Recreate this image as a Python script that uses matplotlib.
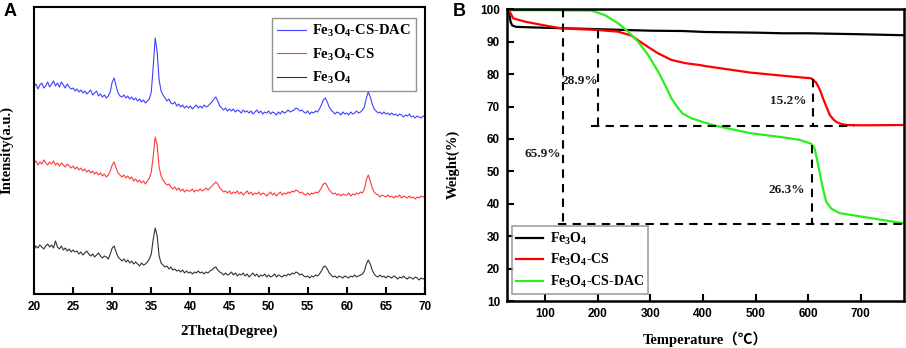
import numpy as np
import matplotlib
matplotlib.use("Agg")
import matplotlib.pyplot as plt

plt.rcParams['mathtext.fontset'] = 'custom'
plt.rcParams['mathtext.rm'] = 'Liberation Serif:bold'
plt.rcParams['mathtext.it'] = 'Liberation Serif:italic:bold'
plt.rcParams['mathtext.bf'] = 'Liberation Serif:bold'

# ---------------- Panel A: XRD ----------------
two_theta = np.arange(0, 201) * 0.25 + 20.0   # 20 .. 70 deg, read grid

xrd_dac = [
    207, 210, 205, 209, 211, 206, 208, 212, 207, 210, 213, 208, 211, 207, 212, 209, 206, 210, 207, 205,
    206, 203, 205, 202, 204, 201, 203, 200, 202, 204, 199, 201, 203, 198, 200, 197, 199, 196, 198, 202,
    212, 216, 208, 201, 198, 197, 199, 196, 198, 195, 197, 194, 196, 193, 195, 192, 194, 191, 193, 195,
    202, 228, 256, 242, 214, 203, 199, 196, 193, 195, 191, 190, 192, 188, 190, 187, 189, 186, 188, 186,
    188, 185, 187, 189, 186, 188, 186, 189, 187, 188, 190, 192, 195, 197, 193, 188, 186, 184, 186, 183,
    185, 183, 185, 182, 184, 183, 181, 184, 182, 183, 181, 183, 180, 182, 184, 181, 183, 180, 182, 181,
    183, 180, 182, 181, 179, 182, 180, 183, 181, 182, 184, 182, 183, 184, 186, 185, 183, 184, 182, 181,
    183, 180, 182, 181, 183, 182, 185, 189, 194, 196, 192, 187, 184, 182, 180, 182, 181, 179, 182, 180,
    181, 179, 182, 180, 181, 183, 181, 182, 184, 187, 196, 202, 197, 190, 185, 183, 181, 182, 180, 182,
    180, 181, 179, 181, 179, 180, 178, 180, 179, 177, 179, 178, 180, 177, 178, 176, 178, 177, 176, 178,
    177,
]
xrd_cs = [
    131, 133, 129, 132, 130, 134, 131, 129, 132, 130, 133, 129, 131, 128, 131, 129, 127, 130, 128, 126,
    128, 125, 127, 124, 126, 123, 125, 122, 124, 121, 123, 120, 122, 119, 121, 118, 120, 117, 119, 123,
    129, 132, 126, 121, 119, 117, 119, 116, 118, 115, 117, 113, 115, 112, 114, 111, 113, 110, 113, 116,
    122, 138, 157, 149, 127, 118, 114, 111, 109, 110, 107, 105, 107, 104, 106, 103, 105, 102, 104, 103,
    103, 105, 102, 104, 103, 105, 103, 104, 106, 104, 106, 108, 110, 112, 110, 106, 104, 102, 103, 101,
    103, 100, 102, 101, 103, 100, 102, 99, 101, 103, 100, 102, 99, 101, 100, 102, 99, 101, 100, 98,
    100, 102, 99, 101, 98, 100, 102, 99, 101, 100, 102, 101, 103, 102, 104, 103, 101, 102, 100, 99,
    101, 99, 101, 100, 102, 101, 103, 106, 110, 111, 108, 104, 102, 100, 101, 99, 100, 98, 100, 99,
    99, 101, 98, 100, 99, 101, 100, 102, 101, 105, 114, 119, 113, 106, 102, 100, 99, 97, 99, 98,
    97, 99, 97, 98, 96, 98, 97, 99, 96, 98, 97, 96, 98, 96, 97, 95, 97, 96, 98, 97,
    98,
]
xrd_fe3o4 = [
    44, 48, 46, 49, 47, 45, 48, 50, 47, 49, 46, 53, 47, 45, 48, 44, 46, 43, 45, 42,
    44, 42, 43, 40, 42, 39, 41, 43, 40, 38, 40, 37, 39, 41, 38, 36, 38, 37, 35, 40,
    46, 48, 42, 37, 35, 33, 35, 32, 34, 31, 33, 30, 32, 30, 28, 31, 29, 30, 32, 35,
    40, 55, 66, 58, 38, 31, 29, 27, 28, 25, 27, 24, 25, 23, 24, 22, 24, 21, 23, 21,
    22, 20, 22, 21, 23, 21, 22, 20, 22, 21, 23, 24, 26, 27, 24, 22, 21, 19, 21, 19,
    20, 22, 19, 21, 18, 20, 19, 21, 18, 20, 17, 19, 21, 18, 20, 17, 19, 18, 20, 17,
    19, 17, 18, 20, 17, 19, 18, 17, 19, 18, 20, 19, 21, 20, 22, 21, 19, 20, 18, 17,
    18, 16, 18, 17, 19, 18, 20, 23, 27, 28, 25, 21, 19, 17, 18, 16, 18, 17, 16, 18,
    17, 16, 18, 17, 19, 17, 18, 19, 20, 23, 30, 34, 30, 24, 20, 18, 17, 19, 17, 18,
    16, 18, 17, 16, 18, 17, 15, 17, 16, 18, 16, 15, 17, 16, 15, 17, 16, 14, 16, 15,
    16,
]
xrd_labels = ['Fe$_3$O$_4$-CS-DAC', 'Fe$_3$O$_4$-CS', 'Fe$_3$O$_4$']
xrd_ticks = [20, 25, 30, 35, 40, 45, 50, 55, 60, 65, 70]

# ---------------- Panel B: TGA ----------------
T_fe3o4 = [28, 31, 33, 35, 38, 45, 60, 100, 150, 214, 300, 362, 404, 500, 552, 600, 700, 780]
W_fe3o4 = [100, 99.6, 98, 96, 95.0, 94.6, 94.5, 94.3, 94.1, 93.8, 93.4, 93.3, 93.0, 92.8, 92.6, 92.6, 92.3, 92.0]

T_cs = [28, 33, 40, 62, 100, 132, 201, 239, 264, 290, 315, 340, 366, 394, 404, 489, 552, 606,
        615, 622, 628, 635, 641, 648, 654, 663, 673, 700, 780]
W_cs = [100, 99.3, 97.2, 96.2, 95.0, 94.1, 93.6, 93.1, 91.9, 89.0, 86.4, 84.4, 83.4, 82.8, 82.5, 80.5, 79.5, 78.7,
        77.4, 75.3, 72.6, 69.8, 67.4, 66.0, 65.2, 64.6, 64.3, 64.2, 64.3]

T_dac = [28, 35, 100, 189, 214, 239, 258, 277, 296, 315, 328, 340, 353, 362, 378, 404, 426, 489,
         552, 584, 606, 612, 617, 622, 628, 634, 644, 660, 710, 780]
W_dac = [100, 99.7, 99.7, 99.6, 98.2, 95.7, 93.1, 90.0, 85.9, 80.8, 76.7, 72.6, 69.5, 67.8, 66.4, 65.0, 64.0, 61.8,
         60.5, 59.7, 58.5, 57.2, 53.5, 49.5, 44.8, 40.7, 38.5, 37.1, 35.8, 34.0]

tga_labels = ['Fe$_3$O$_4$', 'Fe$_3$O$_4$-CS', 'Fe$_3$O$_4$-CS-DAC']

# guide lines (temperature, weight levels) and loss annotations
guide_T = [135, 201, 609, 607]
guide_top = [100, 93.5, 78.6, 58.2]
level_cs = 64.1
level_dac = 33.7
level_cs_span = [187, 687]
level_dac_span = [125, 780]
loss_text = ['28.9%', '65.9%', '15.2%', '26.3%']
loss_T = [166, 95, 562, 560]
loss_W = [78.0, 55.4, 71.8, 44.3]

fig = plt.figure(figsize=(9.06, 3.48), dpi=100)

serif_bold = dict(family=['Liberation Serif', 'Noto Sans CJK SC'], weight='bold')
sans_bold = dict(family='Liberation Sans', weight='bold')
tick_fp = matplotlib.font_manager.FontProperties(family='Liberation Sans', weight='bold', size=8.5)

# ---------- A ----------
axA = fig.add_axes([34 / 906, (348 - 294) / 348, 391 / 906, 287 / 348])
axA.plot(two_theta, xrd_dac, color='#4040ff', lw=0.8, label=xrd_labels[0])
axA.plot(two_theta, xrd_cs, color='#ff3a3a', lw=0.8, label=xrd_labels[1])
axA.plot(two_theta, xrd_fe3o4, color='#333333', lw=0.8, label=xrd_labels[2])
axA.set_xlim(20, 70)
axA.set_ylim(0, 287)
axA.set_xticks(xrd_ticks)
axA.set_yticks([])
axA.tick_params(axis='x', direction='in', length=5, width=1.5, pad=5, top=False)
for lab in axA.get_xticklabels():
    lab.set_fontproperties(tick_fp)
for s in axA.spines.values():
    s.set_linewidth(1.5)
axA.set_xlabel('2Theta(Degree)', fontsize=10.5, **serif_bold)
axA.xaxis.set_label_coords(0.5, -0.105)
axA.set_ylabel('Intensity(a.u.)', fontsize=10.5, **serif_bold)
axA.yaxis.set_label_coords(-0.052, 0.5)
legA = axA.legend(loc='upper right', bbox_to_anchor=((416 - 34) / 391, (294 - 18) / 287),
                  borderaxespad=0, frameon=True, fancybox=False, edgecolor='#777777',
                  prop=dict(family='Liberation Serif', weight='bold', size=10.5),
                  handlelength=2.0, labelspacing=0.5, borderpad=0.35, handletextpad=0.4)
legA.get_frame().set_linewidth(1.0)
fig.text(4 / 906, 1 - 11 / 348, 'A', fontsize=13, va='center', ha='left', **sans_bold)

# ---------- B ----------
axB = fig.add_axes([507 / 906, (348 - 301) / 348, 397 / 906, 291.7 / 348])
axB.plot(T_fe3o4, W_fe3o4, color='black', lw=1.6, label=tga_labels[0])
axB.plot(T_cs, W_cs, color='#ff0000', lw=1.6, label=tga_labels[1])
axB.plot(T_dac, W_dac, color='#2aee1e', lw=1.6, label=tga_labels[2])

dash = dict(color='black', lw=1.5, ls=(0, (4, 3)))
axB.plot([guide_T[0], guide_T[0]], [guide_top[0], level_dac], **dash)
axB.plot([guide_T[1], guide_T[1]], [guide_top[1], level_cs], **dash)
axB.plot([guide_T[2], guide_T[2]], [guide_top[2], level_cs], **dash)
axB.plot([guide_T[3], guide_T[3]], [guide_top[3], level_dac], **dash)
axB.plot(level_cs_span, [level_cs, level_cs], **dash)
axB.plot(level_dac_span, [level_dac, level_dac], **dash)
for t, x, y in zip(loss_text, loss_T, loss_W):
    axB.text(x, y, t, ha='center', va='center', fontsize=9.5,
             family='Liberation Serif', weight='bold', color='#1a1a1a')

axB.set_xlim(28, 782)
axB.set_ylim(10, 100)
axB.set_xticks([100, 200, 300, 400, 500, 600, 700])
axB.set_yticks([10, 20, 30, 40, 50, 60, 70, 80, 90, 100])
axB.tick_params(direction='in', length=5, width=1.5, pad=5, top=False, right=False)
for lab in axB.get_xticklabels() + axB.get_yticklabels():
    lab.set_fontproperties(tick_fp)
for s in axB.spines.values():
    s.set_linewidth(1.8)
axB.set_xlabel('Temperature（℃）', fontsize=10.5, **serif_bold)
axB.xaxis.set_label_coords(0.5, -0.105)
axB.set_ylabel('Weight(%)', fontsize=10.5, **serif_bold)
axB.yaxis.set_label_coords(-0.118, 0.47)
legB = axB.legend(loc='lower left', bbox_to_anchor=(0.0126, 0.024), borderaxespad=0,
                  frameon=True, fancybox=False, edgecolor='#888888',
                  prop=dict(family='Liberation Serif', weight='bold', size=10),
                  handlelength=1.9, labelspacing=0.4, borderpad=0.3, handletextpad=0.5)
legB.get_frame().set_linewidth(1.2)
fig.text(453 / 906, 1 - 11 / 348, 'B', fontsize=13, va='center', ha='left', **sans_bold)

fig.savefig('out.png', dpi=100)
